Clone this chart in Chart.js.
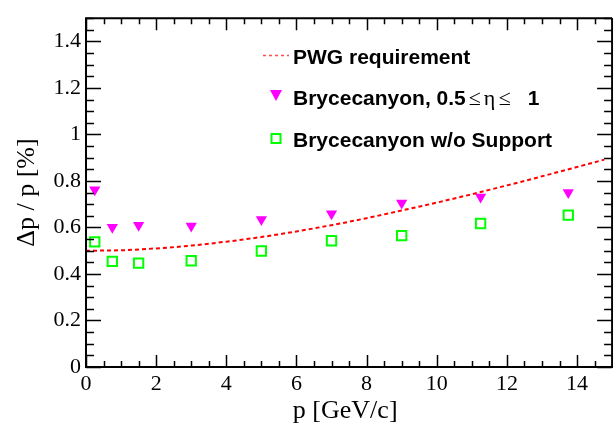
<!DOCTYPE html>
<html>
<head>
<meta charset="utf-8">
<script src="https://cdn.jsdelivr.net/npm/chart.js@4"></script>
<style>
    html, body { margin: 0; padding: 0; background: #fff; }
    canvas { display: block; }
</style>
</head>
<body>
<canvas id="chart" width="613" height="423"></canvas>
<script>
// Data
const PWG_P = [0, 1, 2, 3, 4, 5, 6, 7, 8, 9, 10, 11, 12, 13, 14, 15];
const PWG_RES = [0.500, 0.502, 0.510, 0.522, 0.539, 0.559, 0.583, 0.610, 0.640, 0.673, 0.707, 0.743, 0.781, 0.820, 0.860, 0.901];

const MOMENTUM = [0.25, 0.75, 1.5, 3, 5, 7, 9, 11.25, 13.75];
const RES_ETA = [0.762, 0.601, 0.610, 0.606, 0.634, 0.659, 0.705, 0.731, 0.750];
const RES_NO_SUPPORT = [0.538, 0.454, 0.447, 0.457, 0.499, 0.543, 0.565, 0.617, 0.653];

const LEGEND_LABELS = ['PWG requirement', 'Brycecanyon, 0.5', 'Brycecanyon w/o Support'];
const X_TITLE = 'p [GeV/c]';
const Y_TITLE = 'Δp / p [%]';

const X_FULL_MAX = 15;   // the frame of the original ends at 15, just past the canvas
const Y_MAX = 1.5;

const toPoints = (xs, ys) => xs.map((x, i) => ({ x: x, y: ys[i] }));

// ROOT-style frame with inward ticks on every side
const framePlugin = {
    id: 'frame',
    afterDatasetsDraw(chart) {
        const { ctx, scales: { x, y } } = chart;
        const left = x.getPixelForValue(0);
        const right = x.getPixelForValue(X_FULL_MAX);
        const bottom = y.getPixelForValue(0);
        const top = y.getPixelForValue(Y_MAX);
        ctx.save();
        ctx.strokeStyle = '#000';
        ctx.lineWidth = 2;
        ctx.beginPath();
        ctx.moveTo(right, top);
        ctx.lineTo(left, top);
        ctx.lineTo(left, bottom);
        ctx.lineTo(right, bottom);
        ctx.lineTo(right, top);
        ctx.stroke();

        ctx.lineWidth = 1.5;
        ctx.beginPath();
        // x ticks: major every 2, minor every 0.5
        for (let i = 0; i <= X_FULL_MAX * 2; i++) {
            const v = i * 0.5;
            const px = Math.round(x.getPixelForValue(v)) + 0.5;
            const len = (i % 4 === 0) ? 12 : 6;
            ctx.moveTo(px, bottom);
            ctx.lineTo(px, bottom - len);
            ctx.moveTo(px, top);
            ctx.lineTo(px, top + len);
        }
        // y ticks: major every 0.2, minor every 0.05
        for (let i = 0; i <= Y_MAX * 20; i++) {
            const v = i * 0.05;
            const py = Math.round(y.getPixelForValue(v)) + 0.5;
            const len = (i % 4 === 0) ? 15 : 8;
            ctx.moveTo(left, py);
            ctx.lineTo(left + len, py);
            ctx.moveTo(right, py);
            ctx.lineTo(right - len, py);
        }
        ctx.stroke();
        ctx.restore();
    }
};

// Legend box drawn inside the frame
const legendPlugin = {
    id: 'rootLegend',
    afterDraw(chart) {
        const { ctx } = chart;
        const textX = 293;
        const markX = 276;
        const bold = 'bold 21px "Liberation Sans", Arial, sans-serif';
        const symbol = '22px "Liberation Serif", "Times New Roman", serif';
        ctx.save();
        ctx.fillStyle = '#000';
        ctx.textBaseline = 'alphabetic';
        ctx.textAlign = 'left';

        // PWG requirement
        ctx.strokeStyle = 'rgba(255,0,0,0.7)';
        ctx.lineWidth = 1.5;
        ctx.setLineDash([3, 3]);
        ctx.beginPath();
        ctx.moveTo(263, 55.5);
        ctx.lineTo(289, 55.5);
        ctx.stroke();
        ctx.setLineDash([]);
        ctx.font = bold;
        ctx.fillText(LEGEND_LABELS[0], textX, 64);

        // Brycecanyon, 0.5 <= eta <= 1
        ctx.fillStyle = '#ff00ff';
        ctx.beginPath();
        ctx.moveTo(markX - 6, 90);
        ctx.lineTo(markX + 6, 90);
        ctx.lineTo(markX, 101);
        ctx.closePath();
        ctx.fill();
        ctx.fillStyle = '#000';
        ctx.font = bold;
        ctx.fillText(LEGEND_LABELS[1], textX, 105);
        const end = textX + ctx.measureText(LEGEND_LABELS[1]).width;
        ctx.font = symbol;
        ctx.fillText('≤', end + 3, 105);
        ctx.fillText('η', end + 18, 105);
        ctx.fillText('≤', end + 33, 105);
        ctx.font = bold;
        ctx.fillText('1', end + 62, 105);

        // Brycecanyon w/o Support
        ctx.strokeStyle = '#00ff00';
        ctx.lineWidth = 2;
        ctx.strokeRect(markX - 4.5, 134, 9, 9);
        ctx.font = bold;
        ctx.fillText(LEGEND_LABELS[2], textX, 147);
        ctx.restore();
    }
};

const serif = '"Liberation Serif", "Times New Roman", serif';

new Chart(document.getElementById('chart'), {
    type: 'scatter',
    data: {
        datasets: [
            {
                label: LEGEND_LABELS[0],
                data: toPoints(PWG_P, PWG_RES),
                showLine: true,
                borderColor: '#ff0000',
                borderWidth: 2,
                borderDash: [4, 3],
                pointRadius: 0,
                tension: 0.4,
                cubicInterpolationMode: 'monotone'
            },
            {
                label: LEGEND_LABELS[1],
                data: toPoints(MOMENTUM, RES_ETA),
                pointStyle: 'triangle',
                rotation: 180,
                pointRadius: 6.5,
                backgroundColor: '#ff00ff',
                borderColor: '#ff00ff',
                borderWidth: 0
            },
            {
                label: LEGEND_LABELS[2],
                data: toPoints(MOMENTUM, RES_NO_SUPPORT),
                pointStyle: 'rect',
                pointRadius: 6.6,
                backgroundColor: 'rgba(0,0,0,0)',
                borderColor: '#00ff00',
                borderWidth: 2
            }
        ]
    },
    options: {
        responsive: false,
        devicePixelRatio: 1,
        animation: false,
        layout: { padding: { top: 7, right: 0, left: 0, bottom: 0 } },
        plugins: {
            legend: { display: false },
            tooltip: { enabled: false }
        },
        scales: {
            x: {
                type: 'linear',
                min: 0,
                max: 14.78,
                grid: { display: false, drawTicks: false },
                border: { display: false },
                ticks: {
                    stepSize: 2,
                    includeBounds: false,
                    maxRotation: 0,
                    color: '#000',
                    padding: 4,
                    font: { family: serif, size: 22 }
                },
                title: {
                    display: true,
                    text: X_TITLE,
                    color: '#000',
                    font: { family: serif, size: 26 },
                    padding: { top: 0, bottom: -4 }
                },
                afterFit(scale) { scale.height = 56; }
            },
            y: {
                type: 'linear',
                min: 0,
                max: Y_MAX,
                grid: { display: false, drawTicks: false },
                border: { display: false },
                ticks: {
                    stepSize: 0.2,
                    includeBounds: false,
                    color: '#000',
                    padding: 5,
                    font: { family: serif, size: 22 },
                    callback: (v) => String(Math.round(v * 10) / 10)
                },
                title: {
                    display: true,
                    text: Y_TITLE,
                    color: '#000',
                    font: { family: serif, size: 26 },
                    padding: { top: 12, bottom: 0 }
                },
                afterFit(scale) { scale.width = 86; }
            }
        }
    },
    plugins: [framePlugin, legendPlugin]
});
</script>
</body>
</html>
